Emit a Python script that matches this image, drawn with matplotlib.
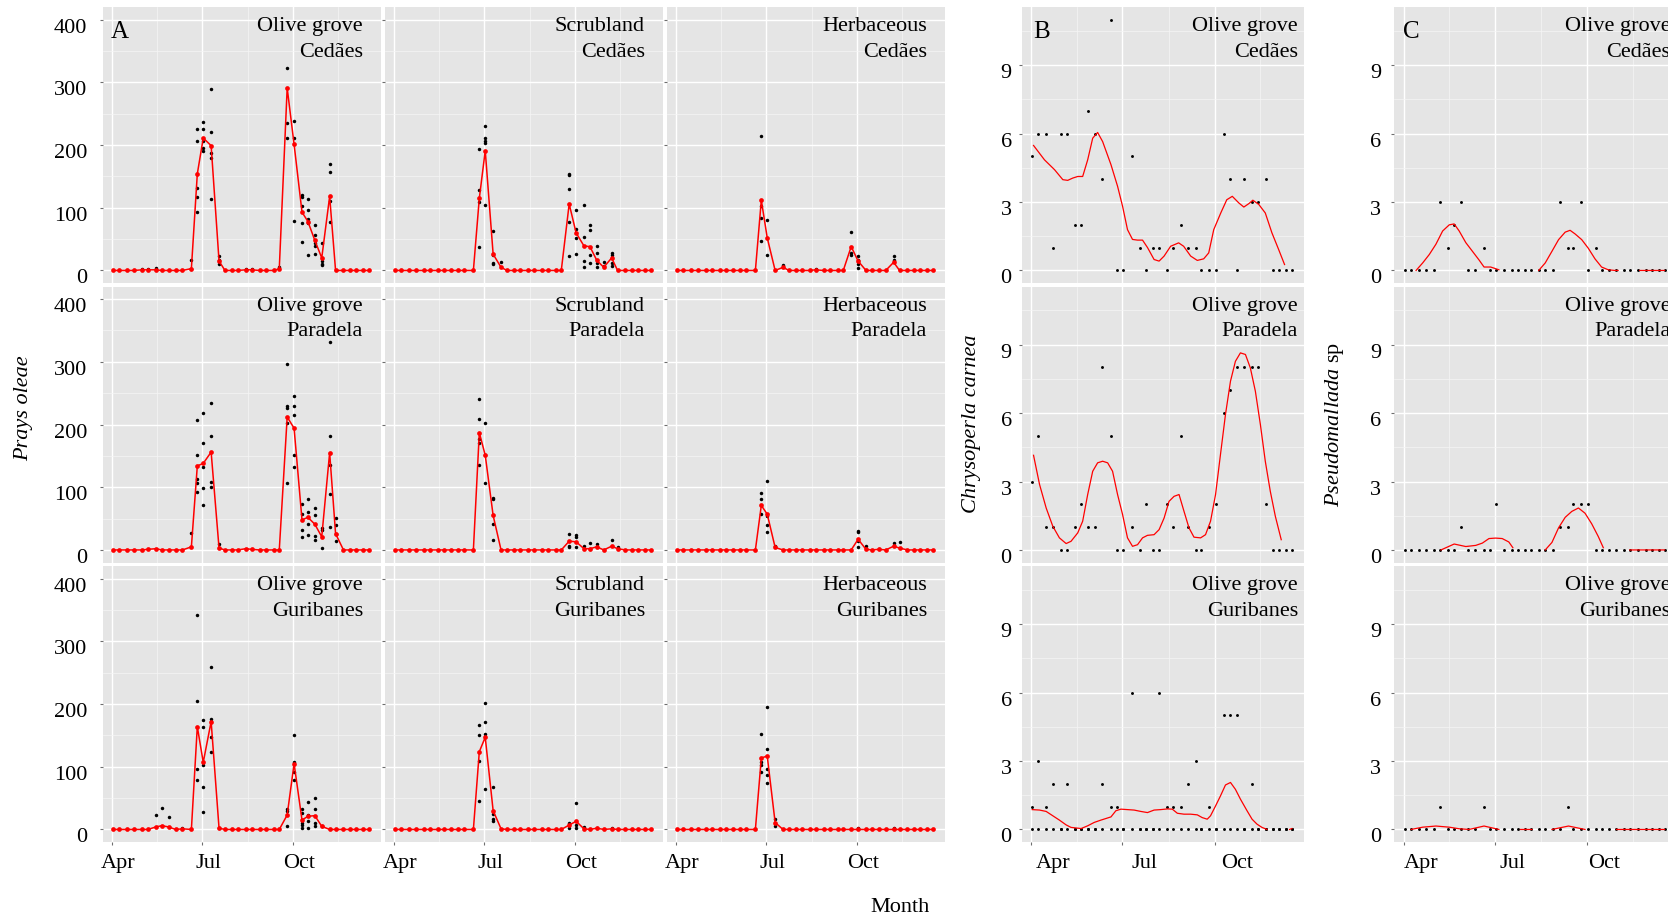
import numpy as np
import matplotlib
matplotlib.use('Agg')
import matplotlib.pyplot as plt
from matplotlib.transforms import ScaledTranslation

plt.rcParams['font.family'] = ['Liberation Serif', 'DejaVu Serif']
plt.rcParams['mathtext.fontset'] = 'custom'
plt.rcParams['mathtext.rm'] = 'Liberation Serif'
plt.rcParams['mathtext.it'] = 'Liberation Serif:italic'

# sampling dates, days after 1 April
sample_day = [1, 7, 15, 22, 30, 36, 44, 50, 57, 64, 71, 80, 86, 92, 100, 108, 114, 121, 127,
              135, 141, 149, 156, 164, 169, 177, 184, 192, 198, 205, 212, 220, 226, 234, 241,
              247, 254, 260]
month_day = [0, 91, 183]
month_lab = ['Apr', 'Jul', 'Oct']

habitats = ['Olive grove', 'Scrubland', 'Herbaceous']
sites = ['Cedães', 'Paradela', 'Guribanes']

# Prays oleae - mean per date (red) and single traps (black)
og_ced = [0, 0, 0, 0, 1, 1, 1, 0, 0, 0, 0, 3, 154, 211, 199, 15, 0, 0, 0, 1, 1, 0, 0, 0, 3,
          291, 201, 93, 78, 48, 20, 118, 0, 0, 0, 0, 0, 0]
sc_ced = [0, 0, 0, 0, 0, 0, 0, 0, 0, 0, 0, 0, 115, 191, 26, 5, 0, 0, 0, 0, 0, 0, 0, 0, 0,
          106, 60, 39, 38, 16, 5, 20, 0, 0, 0, 0, 0, 0]
hb_ced = [0, 0, 0, 0, 0, 0, 0, 0, 0, 0, 0, 0, 112, 52, 0, 5, 0, 0, 0, 0, 1, 0, 0, 0, 0,
          38, 15, 0, 0, 0, 0, 13, 0, 0, 0, 0, 0, 0]
og_par = [0, 0, 0, 0, 0, 1, 2, 0, 0, 0, 0, 5, 134, 138, 156, 3, 0, 0, 0, 2, 1, 0, 0, 0, 0,
          212, 194, 48, 52, 41, 21, 155, 26, 0, 0, 0, 0, 0]
sc_par = [0, 0, 0, 0, 0, 0, 0, 0, 0, 0, 0, 0, 187, 151, 55, 0, 0, 0, 0, 0, 0, 0, 0, 0, 0,
          14, 13, 2, 2, 5, 0, 6, 2, 0, 0, 0, 0, 0]
hb_par = [0, 0, 0, 0, 0, 0, 0, 0, 0, 0, 0, 0, 71, 57, 4, 0, 0, 0, 0, 0, 0, 0, 0, 0, 0,
          0, 17, 1, 0, 1, 0, 6, 3, 0, 0, 0, 0, 0]
og_gur = [0, 0, 0, 0, 0, 0, 4, 6, 4, 0, 1, 0, 164, 107, 172, 2, 0, 0, 0, 0, 0, 0, 0, 0, 0,
          23, 105, 15, 21, 22, 5, 0, 0, 0, 0, 0, 0, 0]
sc_gur = [0, 0, 0, 0, 0, 0, 0, 0, 0, 0, 0, 0, 124, 147, 30, 1, 0, 0, 0, 0, 0, 0, 0, 0, 0,
          7, 13, 1, 0, 2, 0, 1, 0, 0, 0, 0, 0, 0]
hb_gur = [0, 0, 0, 0, 0, 0, 0, 0, 0, 0, 0, 0, 114, 117, 11, 0, 0, 0, 0, 0, 0, 0, 0, 0, 0,
          0, 0, 0, 0, 0, 0, 0, 0, 0, 0, 0, 0, 0]

# non-zero trap counts, keyed by sampling-date index
og_ced_traps = {4: [3], 5: [3], 6: [4], 11: [17, 2], 12: [225, 207, 131, 117, 93],
                13: [237, 225, 206, 195, 191], 14: [290, 221, 188, 179, 114], 15: [23, 17, 11],
                19: [3], 20: [3], 24: [5], 25: [323, 235, 211], 26: [239, 211, 79],
                27: [121, 117, 103, 76, 46], 28: [114, 97, 82, 75, 25], 29: [73, 56, 44, 39, 27],
                30: [44, 15, 8, 11], 31: [170, 157, 110, 77]}
sc_ced_traps = {12: [193, 128, 109, 38], 13: [231, 211, 206, 203, 104], 14: [63, 25, 12, 11],
                15: [13], 25: [154, 152, 130, 78, 23], 26: [97, 66, 51, 27], 27: [105, 54, 15, 5],
                28: [73, 64, 25, 12], 29: [39, 28, 12, 6], 30: [13, 7], 31: [28, 24, 12, 7]}
hb_ced_traps = {12: [215, 102, 84, 47], 13: [80, 25], 15: [8], 20: [3], 25: [61, 28, 25],
                26: [23, 16, 10, 4], 31: [23, 17]}
og_par_traps = {11: [27], 12: [207, 152, 113, 107, 92], 13: [219, 171, 132, 98, 71],
                14: [235, 181, 109, 100], 15: [10], 25: [296, 230, 226, 203, 107],
                26: [246, 230, 215, 151, 132], 27: [74, 58, 32, 20], 28: [82, 60, 42, 24],
                29: [67, 56, 23, 16], 30: [35, 32, 3], 31: [332, 181, 135, 89, 37],
                32: [51, 40, 26, 14]}
sc_par_traps = {12: [241, 208, 177, 171, 135], 13: [202, 151, 106], 14: [83, 81, 41, 16],
                25: [26, 7, 4], 26: [24, 21, 4], 27: [7], 28: [11, 1], 29: [9], 31: [16], 32: [4]}
hb_par_traps = {12: [91, 81, 57], 13: [110, 54, 40, 28], 14: [6], 26: [31, 29, 14, 5], 27: [7],
                29: [2], 31: [11], 32: [13]}
og_gur_traps = {6: [23], 7: [35], 8: [20], 10: [2], 12: [342, 205, 96, 79],
                13: [174, 164, 103, 68, 28], 14: [259, 176, 148, 123], 15: [3], 25: [32, 29, 6],
                26: [151, 108, 92, 79], 27: [32, 26, 11, 7, 3], 28: [43, 23, 14, 3],
                29: [50, 32, 11, 6], 30: [6]}
sc_gur_traps = {12: [166, 151, 109, 46], 13: [202, 171, 152, 65], 14: [68, 25, 17, 14],
                25: [11, 2], 26: [42, 7, 3], 27: [4], 29: [2], 31: [3]}
hb_gur_traps = {12: [152, 107, 103, 91], 13: [195, 129, 97, 87, 74], 14: [16, 5], 26: [2], 31: [2]}

# Chrysoperla carnea counts (olive grove)
cc_ced = [5, 6, 6, 1, 6, 6, 2, 2, 7, 6, 4, 11, 0, 0, 5, 1, 0, 1, 1, 0, 1, 2, 1, 1, 0, 0, 0,
          6, 4, 0, 4, 3, 3, 4, 0, 0, 0, 0]
cc_par = [3, 5, 1, 1, 0, 0, 1, 2, 1, 1, 8, 5, 0, 0, 1, 0, 2, 0, 0, 2, 1, 5, 1, 0, 0, 1, 2,
          6, 7, 8, 8, 8, 8, 2, 0, 0, 0, 0]
cc_gur = [1, 3, 1, 2, 0, 2, 0, 0, 0, 0, 2, 1, 1, 0, 6, 0, 0, 0, 6, 1, 1, 1, 2, 3, 0, 1, 0,
          5, 5, 5, 0, 2, 0, 0, 0, 0, 0, 0]
cc_gur_b = [0, 0, 0, 0, 0, 0, 0, 0, 0, 0, 0, 0, 0, 0, 0, 0, 0, 0, 0, 0, 0, 0, 0, 0, 0, 0, 0,
            0, 0, 0, 0, 0, 0, 0, 0, 0, 0, 0]

# smoothed trend (day, value)
cc_ced_sm_day = [2.3, 13.2, 23.2, 31.5, 36.4, 41.4, 46.4, 51.3, 56.3, 61.3, 66.2, 71.2, 79.5,
                 86.1, 91.1, 96, 101, 106, 111, 116, 122.5, 127.5, 132.5, 139, 147, 152, 159,
                 165.6, 172, 177, 182, 189, 195, 200.5, 207, 212, 217, 221, 227, 233.4, 240,
                 246.7, 252.6]
cc_ced_sm = [5.48, 4.85, 4.42, 3.98, 3.95, 4.05, 4.12, 4.12, 4.85, 5.8, 6.05, 5.65, 4.64, 3.69,
             2.81, 1.79, 1.36, 1.33, 1.33, 1.0, 0.48, 0.41, 0.63, 1.06, 1.21, 1.06, 0.63, 0.44,
             0.51, 0.77, 1.79, 2.52, 3.1, 3.25, 2.96, 2.78, 2.93, 3.08, 2.89, 2.52, 1.65, 0.92,
             0.26]
cc_par_sm_day = [2.3, 8.3, 14.9, 21.5, 28.1, 34.8, 39.7, 46.4, 51.3, 56.3, 61.3, 66.2, 71.2,
                 76.2, 81.1, 86.1, 91.1, 96, 101, 106, 111, 115.9, 122.5, 127.5, 132.5, 137.4,
                 142.4, 147.4, 152.3, 157.3, 162.3, 168.9, 173.8, 178.8, 183.8, 188.7, 193.7,
                 198.7, 203.6, 208.6, 213.6, 218.5, 223.5, 228.5, 233.4, 238.4, 243.4, 249.3]
cc_par_sm = [4.15, 2.87, 1.84, 1.04, 0.53, 0.28, 0.38, 0.75, 1.26, 2.43, 3.45, 3.82, 3.89, 3.82,
             3.45, 2.43, 1.55, 0.53, 0.16, 0.23, 0.53, 0.64, 0.67, 0.89, 1.4, 2.13, 2.35, 2.43,
             1.7, 0.97, 0.56, 0.53, 0.67, 1.26, 2.43, 4.18, 5.94, 7.4, 8.27, 8.64, 8.57, 7.98,
             6.96, 5.5, 3.89, 2.57, 1.48, 0.45]
cc_gur_sm_day = [1, 8.3, 14.9, 21.5, 28.1, 34.8, 39.7, 49.7, 56.3, 62.9, 69.5, 79.5, 84.4, 89.4,
                 96, 102.6, 109.3, 115.9, 122.5, 129.1, 135.8, 140.7, 145.7, 152.3, 158.9, 165.6,
                 170.5, 175.5, 178.8, 183.8, 188.7, 193.7, 198.7, 203.6, 208.6, 215.2, 220.2,
                 225.2, 230.1, 235.1, 240, 257.6, 259.9]
cc_gur_sm = [0.87, 0.85, 0.79, 0.6, 0.41, 0.2, 0.09, 0.04, 0.16, 0.31, 0.41, 0.55, 0.82, 0.89,
             0.87, 0.85, 0.79, 0.74, 0.85, 0.87, 0.9, 0.89, 0.71, 0.67, 0.67, 0.64, 0.52, 0.45,
             0.6, 1.03, 1.47, 1.95, 2.06, 1.76, 1.33, 0.82, 0.45, 0.23, 0.09, 0.0, np.nan, 0.0,
             0.04]

# Pseudomallada sp counts (olive grove)
ps_ced = [0, 0, 0, 0, 0, 3, 1, 2, 3, 0, 0, 1, 0, 0, 0, 0, 0, 0, 0, 0, 0, 0, 3, 1, 1, 3, 0,
          1, 0, 0, 0, 0, 0, 0, 0, 0, 0, 0]
ps_par = [0, 0, 0, 0, 0, 0, 0, 0, 1, 0, 0, 0, 0, 2, 0, 0, 0, 0, 0, 0, 0, 0, 1, 1, 2, 2, 2,
          0, 0, 0, 0, 0, 0, 0, 0, 0, 0, 0]
ps_gur = [0, 0, 0, 0, 0, 1, 0, 0, 0, 0, 0, 1, 0, 0, 0, 0, 0, 0, 0, 0, 0, 0, 0, 1, 0, 0, 0,
          0, 0, 0, 0, 0, 0, 0, 0, 0, 0, 0]
ps_ced_sm_day = [12.2, 18.8, 25.4, 32, 38.7, 45.3, 50.2, 55.2, 61.8, 68.4, 75, 80, 86.6, 94.8,
                 110, 134.5, 141, 147.7, 154.3, 160.9, 165.8, 170.8, 177.4, 184, 190.6, 197.2,
                 203.8, 210.4, 213.7, 225, 235.2, 260]
ps_ced_sm = [0, 0.33, 0.7, 1.15, 1.73, 2.0, 2.04, 1.73, 1.22, 0.84, 0.46, 0.15, 0.15, 0.03,
             np.nan, 0, 0.33, 0.84, 1.35, 1.68, 1.76, 1.6, 1.35, 0.97, 0.51, 0.15, 0.03, 0, 0,
             np.nan, 0, 0]
ps_par_sm_day = [37, 50.2, 61.8, 71.7, 78.3, 84.9, 91.5, 98.1, 104.7, 108.7, 120, 141, 147.7,
                 154.3, 160.9, 167.5, 174.1, 180.7, 187.3, 193.9, 198.9, 212, 225.3, 260]
ps_par_sm = [0, 0.26, 0.15, 0.2, 0.3, 0.5, 0.52, 0.5, 0.35, 0.1, np.nan, 0, 0.33, 0.97, 1.43,
             1.69, 1.84, 1.61, 1.15, 0.59, 0.1, np.nan, 0, 0]
ps_gur_sm_day = [7.3, 18.8, 32, 45.3, 55.2, 65.1, 80, 94.8, 105, 116.3, 127.8, 137, 147.7,
                 164.2, 180.7, 195, 212, 260]
ps_gur_sm = [0, 0.1, 0.15, 0.1, 0.03, 0, 0.15, 0, np.nan, 0, 0, np.nan, 0, 0.15, 0, np.nan, 0, 0]

# ---- layout (pixels of the 1668x917 canvas) ----
W, H = 1668, 917
fig = plt.figure(figsize=(W / 100, H / 100), dpi=100)
rows_px = [(7, 283), (286.5, 562.5), (566, 842)]
cols_a = [(103, 381), (385, 663), (667, 945)]
col_b = (1021.7, 1304)
col_c = (1394.3, 1676.6)

BG = '#E5E5E5'
FS = 16
PT = 0.72  # points per pixel at 100 dpi


def add_ax(x0, x1, y0, y1):
    return fig.add_axes([x0 / W, 1 - y1 / H, (x1 - x0) / W, (y1 - y0) / H])


def style(ax, ylim, yticks, yminor, show_ylab, bottom, xoff, ypad):
    ax.set_facecolor(BG)
    for s in ax.spines.values():
        s.set_visible(False)
    ax.set_xlim(-9.5, 272)
    ax.set_ylim(*ylim)
    ax.set_xticks(month_day)
    ax.set_xticklabels(month_lab)
    ax.set_xticks([45.5, 137, 228.5], minor=True)
    ax.set_yticks(yticks)
    ax.set_yticks(yminor, minor=True)
    ax.grid(which='major', color='white', lw=1.0)
    ax.grid(which='minor', color='#F5F5F5', lw=0.5)
    ax.set_axisbelow(True)
    ax.tick_params(which='minor', length=0)
    ax.tick_params(axis='y', which='major', length=2.2, width=0.8, color='#6E6E6E',
                   labelsize=FS, pad=ypad, labelleft=show_ylab)
    if bottom:
        ax.tick_params(axis='x', which='major', length=2.2, width=0.8, color='#6E6E6E',
                       labelsize=FS, pad=6.6)
        for lab in ax.get_xticklabels():
            lab.set_transform(lab.get_transform() + ScaledTranslation(xoff / 100, 0, fig.dpi_scale_trans))
    else:
        ax.tick_params(axis='x', which='major', length=0, labelbottom=False)
    if show_ylab:
        for lab in ax.get_yticklabels():
            lab.set_transform(lab.get_transform() + ScaledTranslation(0, -6 / 100, fig.dpi_scale_trans))


def facet_label(ax, line1, line2, inset):
    ax.annotate(line1, xy=(1, 1), xycoords='axes fraction', xytext=(-inset * PT, -24.3 * PT),
                textcoords='offset points', ha='right', va='baseline', fontsize=FS)
    ax.annotate(line2, xy=(1, 1), xycoords='axes fraction', xytext=(-inset * PT, -50 * PT),
                textcoords='offset points', ha='right', va='baseline', fontsize=FS)


def panel_letter(ax, letter, inset):
    ax.annotate(letter, xy=(0, 1), xycoords='axes fraction', xytext=(inset * PT, -30.6 * PT),
                textcoords='offset points', ha='left', va='baseline', fontsize=18)


# ---- A: Prays oleae ----
a_means = [[og_ced, sc_ced, hb_ced], [og_par, sc_par, hb_par], [og_gur, sc_gur, hb_gur]]
a_traps = [[og_ced_traps, sc_ced_traps, hb_ced_traps],
           [og_par_traps, sc_par_traps, hb_par_traps],
           [og_gur_traps, sc_gur_traps, hb_gur_traps]]

for r, (y0, y1) in enumerate(rows_px):
    for c, (x0, x1) in enumerate(cols_a):
        ax = add_ax(x0, x1, y0, y1)
        style(ax, (-20, 420), [0, 100, 200, 300, 400], [50, 150, 250, 350],
              show_ylab=(c == 0), bottom=(r == 2), xoff=6, ypad=9)
        traps = a_traps[r][c]
        tx = [sample_day[i] for i, vals in traps.items() for v in vals]
        ty = [v for i, vals in traps.items() for v in vals]
        ax.plot(tx, ty, 'o', color='black', ms=2.5, mew=0, zorder=2)
        ax.plot(sample_day, a_means[r][c], '-o', color='red', lw=1.1, ms=3.4, mew=0, zorder=3)
        facet_label(ax, habitats[c], sites[r], 18)
        if r == 0 and c == 0:
            panel_letter(ax, 'A', 7.4)

# ---- B: Chrysoperla carnea, C: Pseudomallada sp ----
b_counts = [[cc_ced], [cc_par], [cc_gur, cc_gur_b]]
b_smooth = [(cc_ced_sm_day, cc_ced_sm), (cc_par_sm_day, cc_par_sm), (cc_gur_sm_day, cc_gur_sm)]
c_counts = [ps_ced, ps_par, ps_gur]
c_smooth = [(ps_ced_sm_day, ps_ced_sm), (ps_par_sm_day, ps_par_sm), (ps_gur_sm_day, ps_gur_sm)]

for r, (y0, y1) in enumerate(rows_px):
    ax = add_ax(col_b[0], col_b[1], y0, y1)
    style(ax, (-0.55, 11.55), [0, 3, 6, 9], [1.5, 4.5, 7.5, 10.5],
          show_ylab=True, bottom=(r == 2), xoff=22, ypad=5)
    for counts in b_counts[r]:
        ax.plot(sample_day, counts, 'o', color='black', ms=2.1, mew=0, zorder=2)
    ax.plot(b_smooth[r][0], b_smooth[r][1], '-', color='red', lw=0.9, zorder=3)
    facet_label(ax, 'Olive grove', sites[r], 6)
    if r == 0:
        panel_letter(ax, 'B', 11.3)

    ax = add_ax(col_c[0], col_c[1], y0, y1)
    style(ax, (-0.55, 11.55), [0, 3, 6, 9], [1.5, 4.5, 7.5, 10.5],
          show_ylab=True, bottom=(r == 2), xoff=17, ypad=7.2)
    ax.plot(sample_day, c_counts[r], 'o', color='black', ms=2.1, mew=0, zorder=2)
    ax.plot(c_smooth[r][0], c_smooth[r][1], '-', color='red', lw=0.9, zorder=3)
    facet_label(ax, 'Olive grove', sites[r], 6)
    if r == 0:
        panel_letter(ax, 'C', 8.4)

# axis titles
fig.text(24 / W, 1 - 408 / H, 'Prays oleae', rotation=90, style='italic', fontsize=FS,
         ha='center', va='center')
fig.text(971 / W, 1 - 424 / H, 'Chrysoperla carnea', rotation=90, style='italic', fontsize=FS,
         ha='center', va='center')
fig.text(1334 / W, 1 - 424 / H, r'$\mathit{Pseudomallada}$ sp', rotation=90, fontsize=FS,
         ha='center', va='center')
fig.text(900 / W, 1 - 908 / H, 'Month', fontsize=FS, ha='center', va='center')

fig.savefig('out.png', dpi=100, facecolor='white')
